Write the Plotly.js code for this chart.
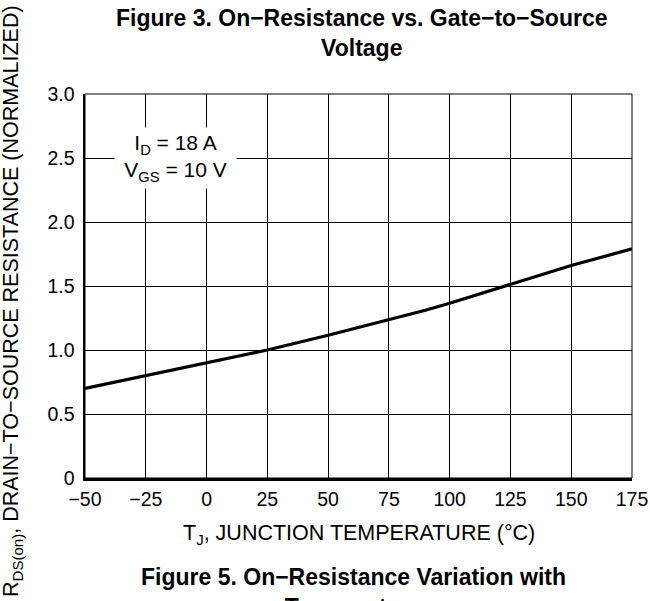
<!DOCTYPE html>
<html>
<head>
<meta charset="utf-8">
<script src="https://cdn.plot.ly/plotly-3.0.1.min.js"></script>
<style>html,body{margin:0;padding:0;background:#fff;}#chart{width:650px;height:601px;}</style>
</head>
<body>
<div id="chart"></div>
<script>
var tempC = [-50, -25, 0, 25, 50, 75, 90, 100, 125, 150, 175];
var rdsNorm = [0.70, 0.80, 0.895, 1.0, 1.115, 1.235, 1.31, 1.365, 1.515, 1.66, 1.79];
var xTicks = [-50, -25, 0, 25, 50, 75, 100, 125, 150, 175];
var yTicks = [0, 0.5, 1.0, 1.5, 2.0, 2.5, 3.0];
var yTickText = ["0", "0.5", "1.0", "1.5", "2.0", "2.5", "3.0"];

var FONT = "Liberation Sans, Arial, Helvetica, sans-serif";

var trace = {
  x: tempC, y: rdsNorm, type: "scatter", mode: "lines",
  line: {color: "#000", width: 3.2}, hoverinfo: "skip", showlegend: false
};

var layout = {
  width: 650, height: 601,
  margin: {l: 85, r: 18, t: 94, b: 123},
  paper_bgcolor: "#fff", plot_bgcolor: "#fff",
  font: {family: FONT, color: "#000", size: 19.5},
  xaxis: {
    range: [-50, 175], tickvals: xTicks,
    showgrid: true, gridcolor: "#000", gridwidth: 1,
    showline: true, linecolor: "#000", linewidth: 2.5,
    zeroline: false, ticks: "", ticklabelstandoff: 2,
    tickfont: {family: FONT, size: 19.5, color: "#000"},
    fixedrange: true
  },
  yaxis: {
    range: [0, 3], tickvals: yTicks, ticktext: yTickText,
    showgrid: true, gridcolor: "#000", gridwidth: 1,
    showline: true, linecolor: "#000", linewidth: 2.5,
    zeroline: false, ticks: "", ticklabelstandoff: 4,
    tickfont: {family: FONT, size: 19.5, color: "#000"},
    fixedrange: true
  },
  shapes: [
    {type: "rect", xref: "paper", yref: "paper", x0: 0, x1: 1, y0: 0, y1: 1,
     line: {color: "#000", width: 1}, layer: "above"}
  ],
  annotations: [
    {
      text: "<b>Figure 3. On−Resistance vs. Gate−to−Source<br>Voltage</b>",
      xref: "paper", yref: "paper", x: 0.506, y: 1.1595, xanchor: "center", yanchor: "middle",
      showarrow: false, font: {family: FONT, size: 23, color: "#000"}
    },
    {
      text: "I<sub>D</sub> = 18 A<br>V<sub>GS</sub> = 10 V",
      x: -12.6, y: 2.5, xref: "x", yref: "y", showarrow: false,
      font: {family: FONT, size: 21, color: "#000"},
      bgcolor: "#fff", width: 113, height: 52, borderpad: 4
    },
    {
      text: "T<sub>J</sub>, JUNCTION TEMPERATURE (°C)",
      xref: "paper", yref: "paper", x: 0.5, y: -0.1484, xanchor: "center", yanchor: "middle",
      showarrow: false, font: {family: FONT, size: 21.5, color: "#000"}
    },
    {
      text: "<b>Figure 5. On−Resistance Variation with<br>Temperature</b>",
      xref: "paper", yref: "paper", x: 0.49, y: -0.2956, xanchor: "center", yanchor: "middle",
      showarrow: false, font: {family: FONT, size: 23, color: "#000"}
    },
    {
      text: "R<sub>DS(on)</sub>, DRAIN−TO−SOURCE RESISTANCE (NORMALIZED)",
      xref: "paper", yref: "paper", x: -0.1316, y: 0.461, xanchor: "center", yanchor: "middle",
      textangle: -90, showarrow: false, font: {family: FONT, size: 21.5, color: "#000"}
    }
  ]
};

Plotly.newPlot("chart", [trace], layout, {displayModeBar: false, staticPlot: true});
</script>
</body>
</html>
